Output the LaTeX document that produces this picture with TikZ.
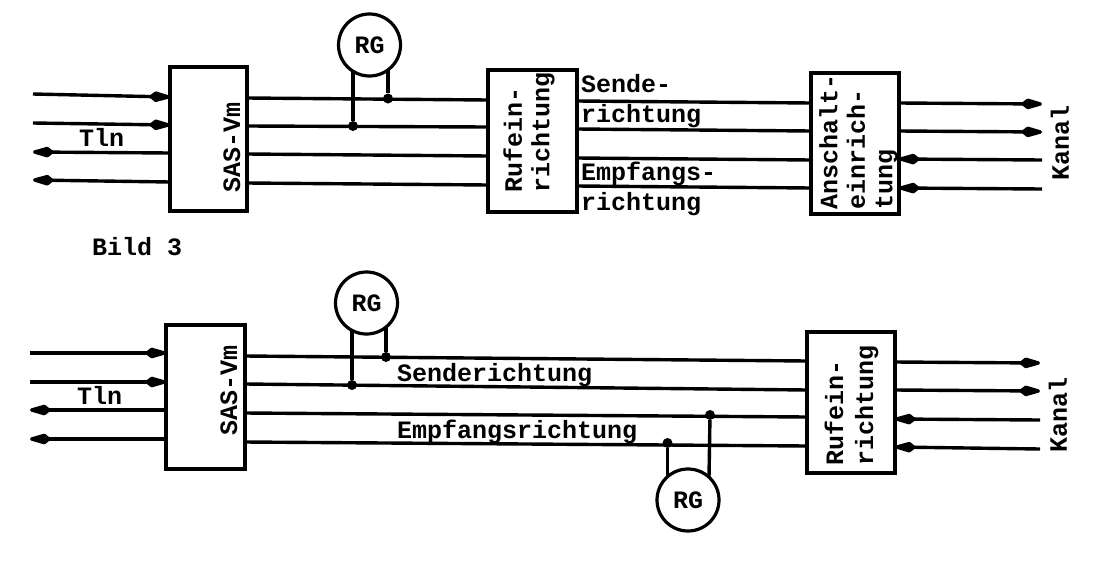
\documentclass[tikz,border=0pt]{standalone}
\usepackage{fontspec}
\setmainfont{Liberation Mono}
\usetikzlibrary{arrows.meta}
\tikzset{
  wire/.style={line width=3.4pt},
  inarrow/.style={wire,-{Kite[length=26pt,width=11pt,inset=7pt,round]}},
  bigbox/.style={draw,line width=3.4pt,inner sep=0pt},
  rgnode/.style={draw,circle,line width=3.2pt,fill=white,inner sep=0pt,minimum size=62pt,font=\fontsize{25}{25}\selectfont\bfseries},
  lbl/.style={font=\fontsize{25}{25}\selectfont\bfseries,inner sep=0pt,anchor=base west},
  vlbl/.style={font=\fontsize{25}{27.5}\selectfont\bfseries,inner sep=0pt,rotate=90,align=left},
  jdot/.style={circle,fill=black,inner sep=0pt,minimum size=10pt},
}
\begin{document}
\begin{tikzpicture}[x=1pt,y=-1pt]
\useasboundingbox (0,0) rectangle (1118,565);
\fill[white] (0,0) rectangle (1118,565);
% ---- top ----
\node[bigbox,minimum width=77pt,minimum height=144pt] (sas1) at (208.5,139) {};
\node[bigbox,minimum width=89pt,minimum height=142pt] (ruf1) at (532.5,141) {};
\node[bigbox,minimum width=88pt,minimum height=141pt] (ans1) at (855,143.5) {};
\node[vlbl] (sas1t) at (232,147) {SAS-Vm};
\node[vlbl] (ruf1t) at (529,132) {Rufein-\\richtung};
\node[vlbl] (ans1t) at (858.5,141.5) {Anschalt-\\einrich-\\tung};
\foreach \i/\ya/\yb in {1/94/97,2/123/125,3/152/153,4/180/182}{
  \coordinate (la\i) at (33,\ya);
  \coordinate (lb\i) at (170,\yb);
}
\draw[inarrow] (la1) -- (lb1);
\draw[inarrow] (la2) -- (lb2);
\draw[inarrow] (lb3) -- (la3);
\draw[inarrow] (lb4) -- (la4);
\foreach \i/\ya/\yb/\yc/\yd in {1/98/100/101/103,2/126/127/129/131,3/154/156/158/160,4/183/185/186/188}{
  \coordinate (ma\i) at (247,\ya);
  \coordinate (mb\i) at (488,\yb);
  \coordinate (mc\i) at (577,\yc);
  \coordinate (md\i) at (811,\yd);
}
\foreach \i in {1,2,3,4}{
  \draw[wire] (ma\i) -- (mb\i);
  \draw[wire] (mc\i) -- (md\i);
}
\foreach \i/\ya/\yb in {1/103/104,2/131/132,3/159/160,4/188/189}{
  \coordinate (ra\i) at (899,\ya);
  \coordinate (rb\i) at (1042,\yb);
}
\draw[inarrow] (ra1) -- (rb1);
\draw[inarrow] (ra2) -- (rb2);
\draw[inarrow] (rb3) -- (ra3);
\draw[inarrow] (rb4) -- (ra4);
\node[jdot] (d1a) at (353,126) {};
\node[jdot] (d1b) at (388,98.5) {};
\node[rgnode] (rg1) at (369.5,45) {RG};
\coordinate (rg1a) at (353,71);
\coordinate (rg1b) at (388,70);
\draw[wire] (rg1a) -- (d1a);
\draw[wire] (rg1b) -- (d1b);
\node[lbl] (tln1) at (79,146) {Tln};
\node[lbl] (bild) at (92,255) {Bild 3};
\node[lbl] (s1) at (581,92) {Sende-};
\node[lbl] (s2) at (581,122) {richtung};
\node[lbl] (e1) at (581,180) {Empfangs-};
\node[lbl] (e2) at (581,210) {richtung};
\node[vlbl] (kan1) at (1060,143) {Kanal};
% ---- bottom ----
\node[bigbox,minimum width=79pt,minimum height=144pt] (sas2) at (205.5,397) {};
\node[bigbox,minimum width=88pt,minimum height=141pt] (ruf2) at (851,402.5) {};
\node[vlbl] (sas2t) at (229,390) {SAS-Vm};
\node[vlbl,font=\fontsize{25}{30}\selectfont\bfseries] (ruf2t) at (851.5,405.5) {Rufein-\\richtung};
\foreach \i/\y in {1/353,2/382,3/410,4/439}{
  \coordinate (pa\i) at (30,\y);
  \coordinate (pb\i) at (166,\y);
}
\draw[inarrow] (pa1) -- (pb1);
\draw[inarrow] (pa2) -- (pb2);
\draw[inarrow] (pb3) -- (pa3);
\draw[inarrow] (pb4) -- (pa4);
\foreach \i/\ya/\yb in {1/356/361,2/384/390,3/413/417,4/442/446}{
  \coordinate (qa\i) at (245,\ya);
  \coordinate (qb\i) at (807,\yb);
  \draw[wire] (qa\i) -- (qb\i);
}
\foreach \i/\ya/\yb in {1/362/363,2/390/391,3/419/420,4/447/449}{
  \coordinate (sa\i) at (895,\ya);
  \coordinate (sb\i) at (1040,\yb);
}
\draw[inarrow] (sa1) -- (sb1);
\draw[inarrow] (sa2) -- (sb2);
\draw[inarrow] (sb3) -- (sa3);
\draw[inarrow] (sb4) -- (sa4);
\node[jdot] (d2a) at (352,385) {};
\node[jdot] (d2b) at (386,357) {};
\node[rgnode] (rg2) at (366.5,303) {RG};
\coordinate (rg2a) at (352,330);
\coordinate (rg2b) at (386,327);
\draw[wire] (rg2a) -- (d2a);
\draw[wire] (rg2b) -- (d2b);
\node[jdot] (d3a) at (667.5,443) {};
\node[jdot] (d3b) at (710,415) {};
\node[rgnode] (rg3) at (688,500) {RG};
\coordinate (rg3a) at (667.5,477);
\coordinate (rg3b) at (709,477);
\draw[wire] (rg3a) -- (d3a);
\draw[wire] (rg3b) -- (d3b);
\node[lbl] (tln2) at (77,404) {Tln};
\node[lbl] (send) at (397,381) {Senderichtung};
\node[lbl] (empf) at (397,438) {Empfangsrichtung};
\node[vlbl] (kan2) at (1058,415) {Kanal};
\end{tikzpicture}
\end{document}
